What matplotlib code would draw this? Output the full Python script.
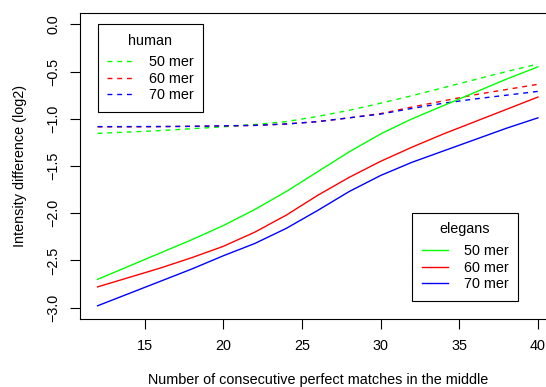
import matplotlib
matplotlib.use("Agg")
import matplotlib.pyplot as plt

plt.rcParams['font.family'] = ['Liberation Sans', 'DejaVu Sans']

# x positions (consecutive perfect matches)
matches = [12, 14, 16, 18, 20, 22, 24, 26, 28, 30, 32, 34, 36, 38, 40]

# elegans (solid)
elegans_50 = [-2.70, -2.56, -2.42, -2.28, -2.13, -1.96, -1.77, -1.56, -1.35, -1.16, -1.00, -0.86, -0.72, -0.58, -0.45]
elegans_60 = [-2.78, -2.68, -2.58, -2.47, -2.35, -2.20, -2.02, -1.81, -1.62, -1.45, -1.30, -1.16, -1.03, -0.90, -0.77]
elegans_70 = [-2.98, -2.85, -2.72, -2.59, -2.45, -2.32, -2.16, -1.97, -1.77, -1.60, -1.46, -1.34, -1.22, -1.10, -0.99]

# human (dashed)
human_50 = [-1.155, -1.14, -1.125, -1.105, -1.085, -1.06, -1.03, -0.975, -0.91, -0.835, -0.755, -0.67, -0.585, -0.50, -0.42]
human_60 = [-1.085, -1.085, -1.083, -1.08, -1.075, -1.07, -1.055, -1.03, -0.99, -0.945, -0.875, -0.81, -0.745, -0.69, -0.635]
human_70 = [-1.083, -1.083, -1.082, -1.08, -1.075, -1.07, -1.055, -1.03, -0.99, -0.95, -0.89, -0.835, -0.79, -0.75, -0.71]

labels = ["50 mer", "60 mer", "70 mer"]
colors = ["#00ff00", "#ff0000", "#0000ff"]

xticks = [15, 20, 25, 30, 35, 40]
yticks = [0.0, -0.5, -1.0, -1.5, -2.0, -2.5, -3.0]

FS = 10.4

fig = plt.figure(figsize=(5.46, 3.87), dpi=100)
ax = fig.add_axes([0.1465, 0.1757, 0.871, 0.7907])

human_lines = []
for ys, c in zip([human_50, human_60, human_70], colors):
    ln, = ax.plot(matches, ys, color=c, lw=1.0, dashes=(3.5, 3.5))
    human_lines.append(ln)

elegans_lines = []
for ys, c in zip([elegans_50, elegans_60, elegans_70], colors):
    ln, = ax.plot(matches, ys, color=c, lw=1.0)
    elegans_lines.append(ln)

ax.set_xlim(10.88, 41.12)
ax.set_ylim(-3.12, 0.12)
ax.set_xticks(xticks)
ax.set_yticks(yticks)
ax.tick_params(direction='out', length=7, width=0.8, labelsize=FS, colors='black')
ax.tick_params(axis='x', pad=7.5)
ax.tick_params(axis='y', pad=7)
for lab in ax.get_yticklabels():
    lab.set_rotation(90)
    lab.set_va('center')
for sp in ax.spines.values():
    sp.set_linewidth(0.8)

ax.set_xlabel("Number of consecutive perfect matches in the middle", fontsize=FS)
ax.set_ylabel("Intensity difference (log2)", fontsize=FS)
ax.xaxis.set_label_coords(0.5, -0.176)
ax.yaxis.set_label_coords(-0.111, 0.5)

leg_kw = dict(fontsize=FS, title_fontsize=FS, handlelength=1.8, handletextpad=1.1,
              labelspacing=0.18, borderpad=0.65, borderaxespad=0, fancybox=False,
              edgecolor='black', framealpha=1)

leg1 = ax.legend(human_lines, labels, title="human", loc='upper left',
                 bbox_to_anchor=(0.0369, 0.9636), **leg_kw)
leg1.get_frame().set_linewidth(0.8)
leg1._legend_box.sep = 5.5  # extra gap under the title
ax.add_artist(leg1)

leg2 = ax.legend(elegans_lines, labels, title="elegans", loc='lower left',
                 bbox_to_anchor=(0.6987, 0.0598), **leg_kw)
leg2.get_frame().set_linewidth(0.8)
leg2._legend_box.sep = 5.5

fig.savefig("out.png", dpi=100)
